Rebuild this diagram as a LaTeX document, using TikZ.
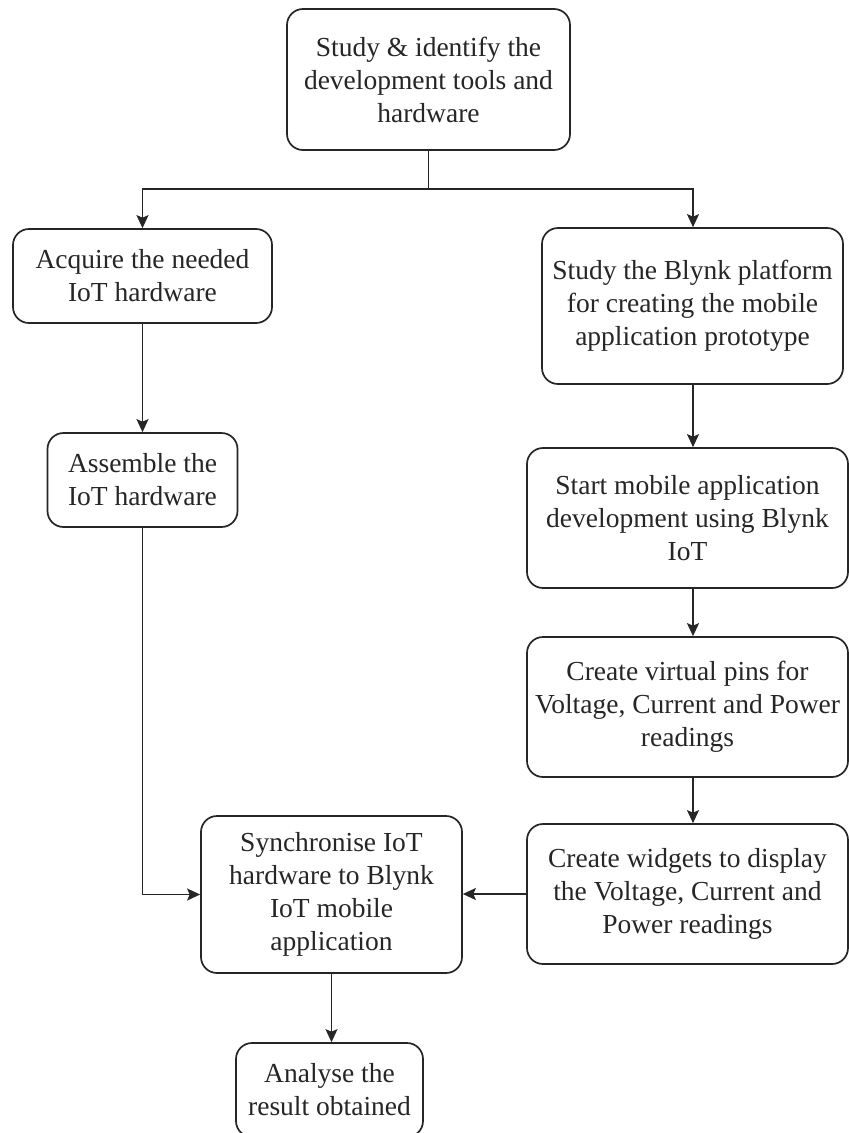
\documentclass[tikz,border=0pt]{standalone}
\usepackage{fontspec}
\setmainfont{Liberation Serif}
\usetikzlibrary{arrows.meta}
\begin{document}
\begin{tikzpicture}[x=1pt,y=-1pt,
  flowbox/.style={draw=black!85, line width=1.7pt, rounded corners=16pt, align=center,
    inner sep=0pt, text=black!85, font=\fontsize{27.5}{33}\selectfont},
  arr/.style={line width=1.7pt, draw=black!85, -{Stealth[length=13pt,width=12pt,inset=2.5pt]}},
  ln/.style={line width=1.7pt, draw=black!85}]
\useasboundingbox (0,0) rectangle (849,1133);
\clip (0,0) rectangle (849,1133);
\fill[white] (0,0) rectangle (849,1133);
\node[flowbox, minimum width=283pt, minimum height=141pt] (n1) at (428.5,79.5)
  {Study \& identify the\\development tools and\\hardware};
\node[flowbox, minimum width=259pt, minimum height=94pt] (n2) at (142.5,276)
  {Acquire the needed\\IoT hardware};
\node[flowbox, minimum width=301pt, minimum height=156pt] (n3) at (692.5,306)
  {Study the Blynk platform\\for creating the mobile\\application prototype};
\node[flowbox, minimum width=190pt, minimum height=94pt] (n4) at (142.5,480)
  {Assemble the\\IoT hardware};
\node[flowbox, minimum width=321pt, minimum height=140pt] (n5) at (687.5,518)
  {Start mobile application\\development using Blynk\\IoT};
\node[flowbox, minimum width=321pt, minimum height=140pt] (n6) at (687.5,707)
  {Create virtual pins for\\Voltage, Current and Power\\readings};
\node[flowbox, minimum width=261pt, minimum height=157pt] (n7) at (331.5,894.5)
  {Synchronise IoT\\hardware to Blynk\\IoT mobile\\application};
\node[flowbox, minimum width=321pt, minimum height=140pt] (n8) at (687.5,894)
  {Create widgets to display\\the Voltage, Current and\\Power readings};
\node[flowbox, minimum width=187pt, minimum height=94pt] (n9) at (329.5,1090)
  {Analyse the\\result obtained};
\coordinate (split) at (428.5,189);
\coordinate (rgt) at (693,189);
\draw[ln] (n1.south) -- (split);
\draw[arr] (split) -| (n2.north);
\draw[arr] (split) -- (rgt) -- (rgt |- n3.north);
\draw[arr] (n2.south) -- (n2.south |- n4.north);
\draw[arr] (rgt |- n3.south) -- (rgt |- n5.north);
\draw[arr] (rgt |- n5.south) -- (rgt |- n6.north);
\draw[arr] (rgt |- n6.south) -- (rgt |- n8.north);
\draw[arr] (n4.south) |- (n7.west);
\draw[arr] (n8.west) -- (n7.east |- n8.west);
\draw[arr] (n7.south) -- (n7.south |- n9.north);
\end{tikzpicture}
\end{document}
